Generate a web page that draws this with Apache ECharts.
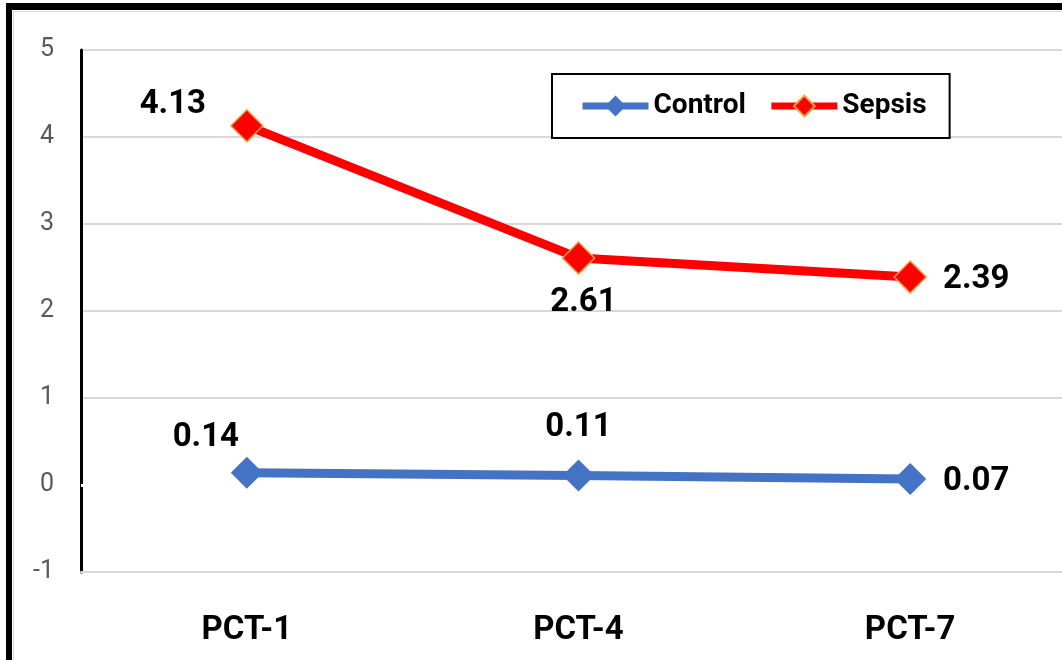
<!DOCTYPE html>
<html>
<head>
<meta charset="utf-8">
<script src="https://cdn.jsdelivr.net/npm/echarts@6/dist/echarts.min.js"></script>
<style>
html,body{margin:0;padding:0;background:#fff;}
#chart{width:1062px;height:660px;}
</style>
</head>
<body>
<div id="chart"></div>
<script>
const categories = ['PCT-1', 'PCT-4', 'PCT-7'];
const controlValues = [0.14, 0.11, 0.07];
const sepsisValues = [4.13, 2.61, 2.39];
const yTicks = { min: -1, max: 5, interval: 1 };
// label offsets (pixels from the point) for each data label
const controlLabelOffsets = [[-41, -35], [0, -48], [66, 3]];
const sepsisLabelOffsets = [[-74, -21], [5, 45], [66, 3]];

const FONT = "Roboto, 'Liberation Sans', sans-serif";

function buildData(values, offsets) {
  return values.map((v, i) => ({
    value: v,
    label: { offset: offsets[i] }
  }));
}

const labelStyle = {
  show: true,
  position: 'inside',
  fontFamily: FONT,
  fontWeight: 'bold',
  fontSize: 33,
  color: '#000',
  formatter: p => p.value.toFixed(2)
};

const chart = echarts.init(document.getElementById('chart'), null, { renderer: 'canvas' });
chart.setOption({
  animation: false,
  backgroundColor: '#fff',
  graphic: [
    { type: 'rect', shape: { x: 6, y: 3, width: 1062, height: 7 }, style: { fill: '#000' }, z: 100 },
    { type: 'rect', shape: { x: 6, y: 3, width: 6, height: 660 }, style: { fill: '#000' }, z: 100 },
    { type: 'line', shape: { x1: 13, y1: 11.5, x2: 1062, y2: 11.5 }, style: { stroke: '#d9d9d9', lineWidth: 1 }, z: 100 },
    { type: 'line', shape: { x1: 13.5, y1: 11, x2: 13.5, y2: 660 }, style: { stroke: '#d9d9d9', lineWidth: 1 }, z: 100 }
  ],
  grid: { left: 81, right: -14, top: 50, bottom: 88, containLabel: false, outerBoundsMode: 'none' },
  legend: {
    left: 552, top: 74,
    padding: [18, 23, 18, 27],
    borderColor: '#000', borderWidth: 2,
    backgroundColor: '#fff',
    itemWidth: 66, itemHeight: 26, itemGap: 22,
    lineStyle: { width: 7 },
    textStyle: { fontFamily: FONT, fontWeight: 'bold', fontSize: 28, color: '#000' },
    data: ['Control', 'Sepsis']
  },
  xAxis: {
    type: 'category',
    data: categories,
    boundaryGap: true,
    axisLine: { show: true, onZero: false, lineStyle: { color: '#d9d9d9', width: 2 } },
    axisTick: { show: false },
    axisLabel: { margin: 42, fontFamily: FONT, fontWeight: 'bold', fontSize: 33, color: '#000' },
    splitLine: { show: false }
  },
  yAxis: {
    type: 'value',
    min: yTicks.min, max: yTicks.max, interval: yTicks.interval,
    axisLine: { show: true, lineStyle: { color: '#000', width: 3 } },
    axisTick: { show: false },
    axisLabel: { margin: 27, fontFamily: FONT, fontSize: 25, color: '#595959' },
    splitLine: { show: true, lineStyle: { color: '#d9d9d9', width: 2 } }
  },
  series: [
    {
      name: 'Control',
      type: 'line',
      data: buildData(controlValues, controlLabelOffsets),
      symbol: 'diamond',
      symbolSize: 32,
      lineStyle: { color: '#4472C4', width: 9 },
      itemStyle: { color: '#4472C4' },
      label: labelStyle,
      markLine: {
        silent: true,
        symbol: 'none',
        label: { show: false },
        lineStyle: { color: '#fff', width: 3, type: 'solid' },
        data: [{ yAxis: 0 }],
        z: 1
      },
      z: 3
    },
    {
      name: 'Sepsis',
      type: 'line',
      data: buildData(sepsisValues, sepsisLabelOffsets),
      symbol: 'diamond',
      symbolSize: 32,
      lineStyle: { color: '#FF0000', width: 9 },
      itemStyle: { color: '#FF0000', borderColor: '#F4A040', borderWidth: 1.5 },
      label: labelStyle,
      z: 3
    }
  ]
});
</script>
</body>
</html>
